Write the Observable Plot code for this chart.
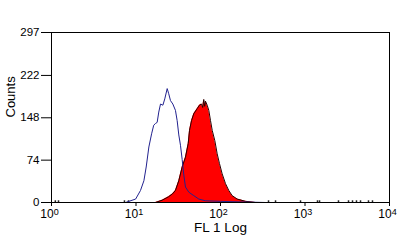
<!DOCTYPE html>
<html>
<head>
<meta charset="utf-8">
<script src="https://cdn.jsdelivr.net/npm/d3@7"></script>
<script src="https://cdn.jsdelivr.net/npm/@observablehq/plot@0.6"></script>
<style>
  html, body { margin: 0; padding: 0; background: #fff; }
</style>
</head>
<body>
<div id="chart"></div>
<script>
// Control (isotype) histogram – blue outline
const blueFL = [7.5, 9.9, 11.3, 12.4, 13.2, 14.2, 15.3, 16.2, 17.0, 17.8, 18.6, 19.5, 20.8, 21.9, 23.4, 24.4, 25.6, 27.3, 29.3, 30.7, 32.1, 33.6, 35.2, 36.8, 38.5, 42.2, 48.3, 55.4, 66.4, 100, 172, 341];
const blueCounts = [0, 6, 21, 38, 62, 97, 120, 135, 138, 140, 158, 172, 170, 181, 199, 190, 178, 172, 161, 143, 118, 100, 75, 48, 27, 18, 12, 6, 3, 2, 1, 0];
// Stained sample histogram – red filled
const redFL = [17, 20.4, 24.3, 27, 29.3, 32.1, 35.2, 38.5, 41.5, 43, 45.4, 48.3, 53, 56.4, 59.6, 61.5, 63.4, 65, 66.4, 69.6, 72.7, 76.2, 79.8, 85.7, 91.4, 97.3, 104.7, 114.6, 125.4, 137.4, 157.6, 197.6, 259];
const redCounts = [0, 4, 10, 15, 21, 38, 62, 79, 103, 126, 143, 155, 164, 170, 172, 166, 180, 168, 177, 170, 161, 143, 126, 108, 85, 68, 50, 33, 21, 12, 6, 2, 0];
// Sparse single events near baseline
const sparseFL = [1.11, 1.21, 7.3, 8.15, 370, 448, 885, 1406, 1486, 2490, 3273, 3650, 4067, 4540, 5640, 6290];
const sparseCounts = [3, 3, 3, 3, 3, 3, 3, 3, 3, 3, 3, 3, 3, 3, 3, 3];
// Axis ticks
const xTicks = [1, 10, 100, 1000, 10000];
const xExponents = ["0", "1", "2", "3", "4"];
const yTicks = [0, 74, 148, 222, 297];
const xLabel = "FL 1 Log";
const yLabel = "Counts";

const blue = blueFL.map((x, i) => ({x, y: blueCounts[i]}));
const red = redFL.map((x, i) => ({x, y: redCounts[i]}));
const sparse = sparseFL.map((x, i) => ({x, y: sparseCounts[i]}));

const chart = Plot.plot({
  width: 400,
  height: 246,
  marginLeft: 51,
  marginRight: 11,
  marginTop: 32,
  marginBottom: 44,
  style: {fontFamily: "'Liberation Sans', Arial, sans-serif", fontSize: "11.5px", color: "#000", background: "#fff"},
  x: {type: "log", domain: [1, 10000]},
  y: {domain: [0, 297]},
  marks: [
    Plot.areaY(red, {x: "x", y: "y", fill: "#ff0000"}),
    Plot.lineY(red, {x: "x", y: "y", stroke: "#2a0000", strokeWidth: 1}),
    Plot.ruleX(sparse, {x: "x", y1: 0, y2: "y", stroke: "#222", strokeWidth: 1.5}),
    Plot.lineY(blue, {x: "x", y: "y", stroke: "#22228f", strokeWidth: 1}),
    Plot.frame({stroke: "#000"}),
    Plot.axisX({ticks: xTicks, tickFormat: d => "10" + xExponents[xTicks.indexOf(d)], tickSize: 4, tickPadding: 3, label: null, fontSize: 12}),
    Plot.axisY({ticks: yTicks, tickFormat: d => String(d), tickSize: 10, tickPadding: 2, label: null, fontSize: 11.5}),
    Plot.text([xLabel], {frameAnchor: "bottom", dy: 29, fontSize: 13.5, fill: "#000"}),
    Plot.text([yLabel], {frameAnchor: "left", dx: -41, rotate: -90, fontSize: 13, fill: "#000"})
  ]
});
document.getElementById("chart").appendChild(chart);

// render exponent as raised smaller digits
d3.select(chart).selectAll('g[aria-label="x-axis tick label"] text').each(function() {
  const t = d3.select(this);
  const s = t.text();
  const base = s.slice(0, 2), exp = s.slice(2);
  t.text(null).attr("dx", "-2");
  t.append("tspan").text(base);
  t.append("tspan").attr("dy", "-0.35em").attr("font-size", "9px").text(exp);
});
</script>
</body>
</html>
